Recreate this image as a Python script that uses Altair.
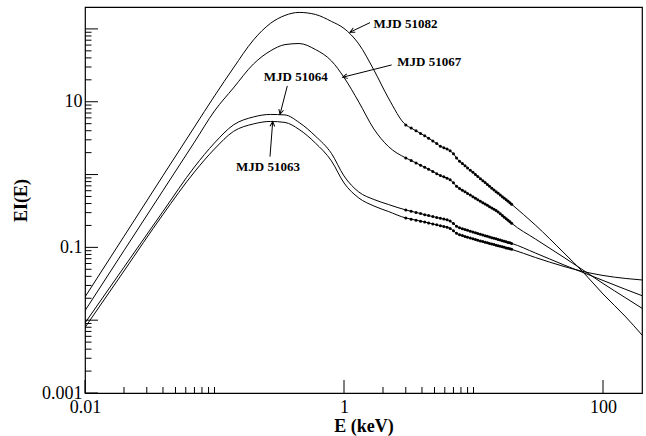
import math
import altair as alt
import pandas as pd

# ---------------- data ----------------
series_names = ["MJD 51082", "MJD 51067", "MJD 51064", "MJD 51063"]

# model curve samples outside the data range (keV)
model_energy = [0.01, 0.02, 0.04, 0.07, 0.1, 0.14, 0.2, 0.27, 0.35, 0.45, 0.6, 0.8,
                1.0, 1.3, 1.7, 2.2, 30, 50, 70, 100, 150, 200]
model_51082 = [0.02083, 0.1416, 0.9658, 4.507, 12.01, 29.13, 70.62, 119.0, 153.3, 168.5, 158.2, 126.8,
               101.6, 62.23, 27.34, 11.28, 0.2031, 0.08377, 0.04594, 0.02290, 0.01107, 0.006259]
model_51067 = [0.01350, 0.09036, 0.6030, 2.787, 7.474, 15.47, 33.05, 49.86, 60.86, 63.02, 52.28, 36.35,
               21.57, 9.938, 4.231, 2.432, 0.1305, 0.07267, 0.04893, 0.03192, 0.02018, 0.01457]
model_51064 = [0.009152, 0.05346, 0.3112, 1.272, 2.718, 4.800, 6.182, 6.691, 6.587, 5.195, 3.390, 1.949,
               0.9568, 0.5768, 0.4550, 0.3884, 0.08377, 0.05730, 0.04521, 0.03511, 0.02640, 0.02171]
model_51063 = [0.007937, 0.04740, 0.2830, 1.086, 2.247, 3.908, 4.956, 5.363, 5.195, 4.164, 2.718, 1.537,
               0.7665, 0.4773, 0.3704, 0.3112, 0.07267, 0.05466, 0.04667, 0.04111, 0.03739, 0.03566]

# measured points (3-20 keV)
dot_energy = [3.0, 3.3, 3.6, 3.9, 4.2, 4.5, 4.85, 5.2, 5.55, 5.9, 6.25, 6.6, 7.0, 7.4, 7.8, 8.2,
              8.6, 9.0, 9.45, 9.9, 10.35, 10.8, 11.3, 11.8, 12.3, 12.8, 13.3, 13.85, 14.4, 14.95,
              15.5, 16.1, 16.7, 17.3, 17.9, 18.5, 19.1, 19.7]
dots_51082 = [4.80, 4.35, 3.98, 3.67, 3.40, 3.16, 2.89, 2.66, 2.455, 2.34, 2.24, 2.12, 1.925, 1.685,
              1.523, 1.416, 1.317, 1.232, 1.146, 1.072, 1.003, 0.942, 0.878, 0.825, 0.777, 0.731,
              0.691, 0.650, 0.614, 0.582, 0.5535, 0.523, 0.497, 0.4726, 0.4494, 0.4298, 0.4099, 0.3908]
dots_51067 = [1.690, 1.557, 1.443, 1.344, 1.258, 1.183, 1.103, 1.029, 0.9674, 0.930, 0.8923, 0.8484,
              0.7691, 0.6885, 0.6424, 0.6085, 0.5785, 0.5499, 0.5229, 0.4972, 0.4741, 0.4521, 0.4312,
              0.4111, 0.3946, 0.3776, 0.3624, 0.3467, 0.3327, 0.3203, 0.3054, 0.2885, 0.2734, 0.2598,
              0.2471, 0.2357, 0.2247, 0.2143]
dots_51064 = [0.3264, 0.3132, 0.3016, 0.2913, 0.2814, 0.2730, 0.2649, 0.2575, 0.2510, 0.2447, 0.2393,
              0.2301, 0.2124, 0.1944, 0.1859, 0.1807, 0.1756, 0.1712, 0.1664, 0.1623, 0.1582, 0.1548,
              0.1509, 0.1476, 0.1448, 0.1416, 0.1389, 0.1359, 0.1334, 0.1309, 0.1284, 0.1260, 0.1236,
              0.1213, 0.1194, 0.1171, 0.1153, 0.1134]
dots_51063 = [0.2534, 0.2441, 0.2365, 0.2291, 0.2227, 0.2164, 0.2100, 0.2038, 0.1987, 0.1938, 0.1888,
              0.1815, 0.1685, 0.1557, 0.1490, 0.1450, 0.1411, 0.1378, 0.1342, 0.1310, 0.1280, 0.1252,
              0.1224, 0.1202, 0.1179, 0.1155, 0.1134, 0.1110, 0.1091, 0.1072, 0.1055, 0.1035, 0.1016,
              0.1000, 0.0983, 0.0969, 0.0954, 0.0939]

# annotations: label centre, arrow tail, arrow head (data units)
label_text = ["MJD 51082", "MJD 51067", "MJD 51064", "MJD 51063"]
label_e = [2.986, 4.549, 0.4244, 0.2588]
label_v = [117.2, 34.66, 21.57, 1.252]
tail_e = [1.588, 2.335, 0.3649, 0.2683]
tail_v = [122.0, 32.03, 16.48, 1.762]
head_e = [1.112, 0.977, 0.3205, 0.2814]
head_v = [90.1, 21.70, 6.733, 5.329]

# axis ticks
x_label_values = [0.01, 1, 100]
y_label_values = [0.001, 0.1, 10]
x_major_ticks = [0.01, 1, 100]
x_minor_ticks = [0.02, 0.03, 0.04, 0.05, 0.06, 0.07, 0.08, 0.09, 0.1,
                 2, 3, 4, 5, 6, 7, 8, 9, 10]
y_major_ticks = [0.001, 0.01, 0.1, 1, 10, 100]
y_minor_ticks = [k * 10.0 ** n for n in range(-3, 2) for k in range(2, 10)]

# ---------------- layout ----------------
W, H = 557, 386
X_DOM = [0.01, 200]
Y_DOM = [0.001, 200]
FONT = "Liberation Serif"

xscale = alt.Scale(type="log", domain=X_DOM, nice=False)
yscale = alt.Scale(type="log", domain=Y_DOM, nice=False)

xaxis = alt.Axis(values=x_label_values, format="~g", title="E (keV)", ticks=False, tickSize=0,
                 domain=False, grid=False, labelFont=FONT, labelFontSize=18, labelColor="black",
                 labelPadding=19, labelBaseline="alphabetic", labelFlush=False, labelOverlap=False,
                 titleFont=FONT, titleFontSize=18, titleFontWeight="bold", titleColor="black",
                 titleX=W / 2, titleY=38, titleBaseline="alphabetic", titleAlign="center")
yaxis = alt.Axis(values=y_label_values, format="~g", title="EI(E)", ticks=False, tickSize=0,
                 domain=False, grid=False, labelFont=FONT, labelFontSize=18, labelColor="black",
                 labelPadding=3, labelBaseline="middle", labelFlush=False, labelOverlap=False,
                 titleFont=FONT, titleFontSize=18, titleFontWeight="bold", titleColor="black",
                 titleAngle=270, titleX=-64, titleY=H / 2, titleAlign="center",
                 titleBaseline="middle")

X = lambda f: alt.X(f, scale=xscale, axis=xaxis)
Y = lambda f: alt.Y(f, scale=yscale, axis=yaxis)

model_values = [model_51082, model_51067, model_51064, model_51063]
dot_values = [dots_51082, dots_51067, dots_51064, dots_51063]

line_rows, dot_rows = [], []
for name, mv, dv in zip(series_names, model_values, dot_values):
    for e, v in zip(model_energy, mv):
        line_rows.append({"series": name, "E": e, "EI": v})
    for e, v in zip(dot_energy, dv):
        line_rows.append({"series": name, "E": e, "EI": v})
        dot_rows.append({"series": name, "E": e, "EI": v})
line_df = pd.DataFrame(line_rows).sort_values(["series", "E"]).reset_index(drop=True)
dot_df = pd.DataFrame(dot_rows)

lines = alt.Chart(line_df).mark_line(color="black", strokeWidth=1, interpolate="monotone",
                                     clip=True).encode(
    x=X("E:Q"), y=Y("EI:Q"), detail="series:N", order="E:Q")

dots = alt.Chart(dot_df).mark_circle(color="black", size=9, opacity=1).encode(
    x=X("E:Q"), y=Y("EI:Q"))

# inward ticks
xmaj = alt.Chart(pd.DataFrame({"E": x_major_ticks})).mark_rule(color="black", strokeWidth=1).encode(
    x=X("E:Q"), y=alt.value(H), y2=alt.value(H - 13))
xmin = alt.Chart(pd.DataFrame({"E": x_minor_ticks})).mark_rule(color="black", strokeWidth=1).encode(
    x=X("E:Q"), y=alt.value(H), y2=alt.value(H - 6))
ymaj = alt.Chart(pd.DataFrame({"EI": y_major_ticks})).mark_rule(color="black", strokeWidth=1).encode(
    y=Y("EI:Q"), x=alt.value(0), x2=alt.value(13))
ymin = alt.Chart(pd.DataFrame({"EI": y_minor_ticks})).mark_rule(color="black", strokeWidth=1).encode(
    y=Y("EI:Q"), x=alt.value(0), x2=alt.value(6.5))

# annotations
kx = W / math.log10(X_DOM[1] / X_DOM[0])
ky = H / math.log10(Y_DOM[1] / Y_DOM[0])
angles = []
for te, tv, he, hv in zip(tail_e, tail_v, head_e, head_v):
    dx = kx * (math.log10(he) - math.log10(te))
    dy = -ky * (math.log10(hv) - math.log10(tv))
    angles.append(math.degrees(math.atan2(dx, -dy)) % 360)

ann_df = pd.DataFrame({"label": label_text, "lx": label_e, "ly": label_v,
                       "tx": tail_e, "ty": tail_v, "hx": head_e, "hy": head_v,
                       "ang": angles})

arrow_lines = alt.Chart(ann_df).mark_rule(color="black", strokeWidth=1).encode(
    x=X("tx:Q"), y=Y("ty:Q"), x2="hx:Q", y2="hy:Q")
arrow_heads = alt.Chart(ann_df).mark_point(shape="M-0.5,1L0,0L0.5,1", filled=False,
                                           color="black", strokeWidth=1, size=90,
                                           opacity=1).encode(
    x=X("hx:Q"), y=Y("hy:Q"), angle=alt.Angle("ang:Q", scale=None))
texts = alt.Chart(ann_df).mark_text(font=FONT, fontSize=13, fontWeight="bold", color="black",
                                    align="center", baseline="middle").encode(
    x=X("lx:Q"), y=Y("ly:Q"), text="label:N")

chart = alt.layer(lines, dots, xmaj, xmin, ymaj, ymin, arrow_lines, arrow_heads, texts).properties(
    width=W, height=H,
    padding={"left": 85, "top": 7, "right": 4, "bottom": 43},
    autosize=alt.AutoSizeParams(type="none"),
    background="white",
).configure_view(stroke="black", strokeWidth=1.2)

chart.save("out.html", embed_options={"renderer": "svg", "actions": False})
